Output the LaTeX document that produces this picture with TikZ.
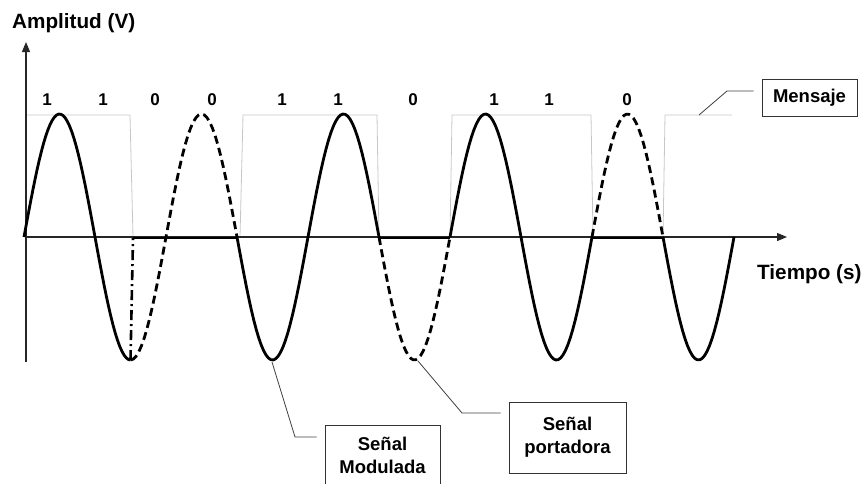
\documentclass[tikz,border=0pt]{standalone}
\usepackage{fontspec}
\setmainfont{Liberation Sans}
\usetikzlibrary{arrows.meta}
\tikzstyle{axis} = [
    line width=1.2pt,
    draw=black!85,
    -{Triangle[length=10pt,width=8pt]}
]
\tikzstyle{mensaje} = [line width=0.8pt, draw=black!22]
\tikzstyle{modulada} = [line width=2.8pt, draw=black, line join=round]
\tikzstyle{portadora} = [
    line width=2.8pt,
    draw=black,
    dash pattern=on 8pt off 4.5pt
]
\tikzstyle{salto} = [
    line width=2.6pt,
    draw=black,
    dash pattern=on 10pt off 4pt on 2pt off 4pt
]
\tikzstyle{leader} = [line width=0.8pt, draw=black!75, shorten >=8pt]
\tikzstyle{callout} = [
    rectangle,
    draw=black!80,
    line width=1pt,
    align=center,
    font=\fontsize{18.5}{23}\selectfont\bfseries
]
\tikzstyle{bit} = [inner sep=0pt, anchor=base, font=\fontsize{17}{20}\selectfont\bfseries]
\tikzstyle{axislabel} = [inner sep=0pt, anchor=base west, font=\fontsize{20.7}{24}\selectfont\bfseries]

\begin{document}
\begin{tikzpicture}[x=1pt, y=-1pt,
    declare function={onda(\t)=237-123*sin(2.53521*(\t-24));}]

\clip (0,0) rectangle (864,483);

% message (square wave)
\draw [mensaje] (26,115) -- (130,115) -- (133,237) -- (240,237) -- (243,115)
    -- (377,115) -- (379,237) -- (450,237) -- (452,115) -- (591,115)
    -- (593,237) -- (663,237) -- (665,115) -- (732,115);

% axes
\draw [axis] (26,362) -- (26,42);
\draw [axis] (26,237) -- (787,237);

% carrier where the message is 0
\draw [portadora] plot[domain=130.5:237, samples=40] (\x, {onda(\x)});
\draw [portadora] plot[domain=379:450, samples=30] (\x, {onda(\x)});
\draw [portadora] plot[domain=592:663, samples=30] (\x, {onda(\x)});

% modulated signal
\draw [modulada] plot[domain=24:130.5, samples=50] (\x, {onda(\x)});
\draw [salto] (130.5,360) -- (133,238);
\draw [modulada] (133,238) -- (237,238);
\draw [modulada] plot[domain=237:379, samples=60] (\x, {onda(\x)});
\draw [modulada] (379,238) -- (450,238);
\draw [modulada] plot[domain=450:592, samples=60] (\x, {onda(\x)});
\draw [modulada] (592,238) -- (663,238);
\draw [modulada] plot[domain=663:734, samples=30] (\x, {onda(\x)});

% axis labels
\node (amplitud) [axislabel] at (12,28.5) {Amplitud (V)};
\node (tiempo) [axislabel] at (757,279) {Tiempo (s)};

% bits
\node (bit1) [bit] at (47,105) {1};
\node (bit2) [bit] at (103,105) {1};
\node (bit3) [bit] at (155,105) {0};
\node (bit4) [bit] at (212,105) {0};
\node (bit5) [bit] at (282,105) {1};
\node (bit6) [bit] at (338,105) {1};
\node (bit7) [bit] at (413,105) {0};
\node (bit8) [bit] at (494,105) {1};
\node (bit9) [bit] at (549,105) {1};
\node (bit10) [bit] at (627,105) {0};

% callouts
\node (mensajebox) [callout, minimum width=95pt, minimum height=37pt]
    at (809.5,97.5) {Mensaje};
\node (portbox) [callout, minimum width=117pt, minimum height=71pt]
    at (567.5,437.5) {Señal\\portadora};
\node (modbox) [callout, minimum width=115pt, minimum height=60pt]
    at (382.5,455) {Señal\\Modulada};

\coordinate (msjpunto) at (699,115);
\coordinate (msjcodo) at (727,91);
\coordinate (modpunto) at (272,362);
\coordinate (modcodo) at (295,437);
\coordinate (portpunto) at (418,361);
\coordinate (portcodo) at (462,413);

\draw [leader] (msjpunto) -- (msjcodo) -- (msjcodo -| mensajebox.west);
\draw [leader] (modpunto) -- (modcodo) -- (modcodo -| modbox.west);
\draw [leader] (portpunto) -- (portcodo) -- (portcodo -| portbox.west);

\end{tikzpicture}
\end{document}
